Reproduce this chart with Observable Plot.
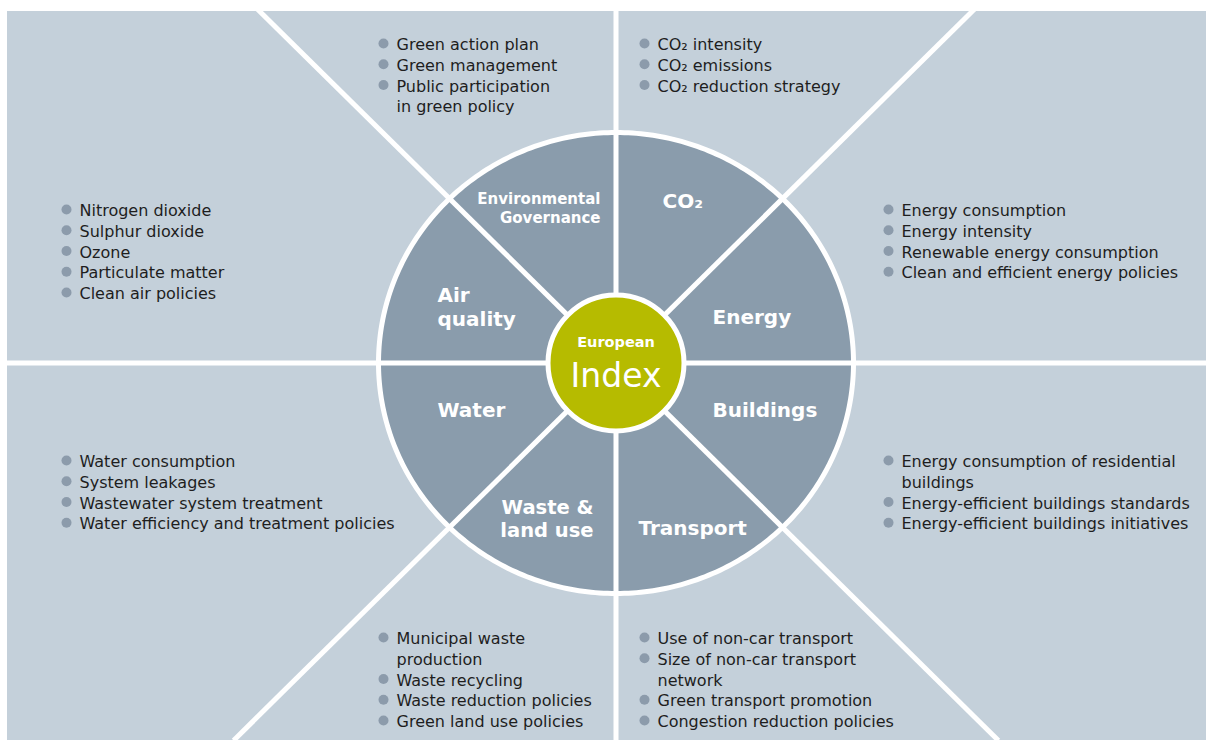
<!DOCTYPE html>
<html><head><meta charset="utf-8">
<script src="https://cdn.jsdelivr.net/npm/d3@7"></script>
<script src="https://cdn.jsdelivr.net/npm/@observablehq/plot@0.6"></script>
<style>
html,body{margin:0;padding:0;background:#fff;}
#chart svg{display:block}
</style></head><body><div id="chart"></div>
<script>
// ---------- content ----------
const centerTitle = ["European", "Index"];
const dimensions = ["Environmental\nGovernance", "CO₂", "Energy", "Buildings", "Transport", "Waste &\nland use", "Water", "Air\nquality"];
const envGovernance = ["Green action plan", "Green management", "Public participation\nin green policy"];
const co2 = ["CO₂ intensity", "CO₂ emissions", "CO₂ reduction strategy"];
const energy = ["Energy consumption", "Energy intensity", "Renewable energy consumption", "Clean and efficient energy policies"];
const buildings = ["Energy consumption of residential\nbuildings", "Energy-efficient buildings standards", "Energy-efficient buildings initiatives"];
const transport = ["Use of non-car transport", "Size of non-car transport\nnetwork", "Green transport promotion", "Congestion reduction policies"];
const waste = ["Municipal waste\nproduction", "Waste recycling", "Waste reduction policies", "Green land use policies"];
const water = ["Water consumption", "System leakages", "Wastewater system treatment", "Water efficiency and treatment policies"];
const air = ["Nitrogen dioxide", "Sulphur dioxide", "Ozone", "Particulate matter", "Clean air policies"];
const indicatorLists = [envGovernance, co2, energy, buildings, transport, waste, water, air];

// ---------- layout (positions / styles) ----------
const W = 1206, H = 740;
const C = {x: 615.5, y: 362.5};
const panel = {x1: 7, y1: 11, x2: 1206, y2: 740};
const outer = {rx: 237.5, ry: 230.5};
const innerR = 68;
const slope = 1.013;
const colors = {panel: "#c4d0da", wedge: "#8a9cac", core: "#b6bb00", bullet: "#8c9bab", text: "#1e1e1e"};
const labelPos = [
  {x: 600, ys: [197, 216], anchor: "end", size: 15, ls: 0},
  {x: 662, ys: [201], anchor: "start", size: 20, ls: 0},
  {x: 712, ys: [317], anchor: "start", size: 20, ls: 0},
  {x: 712, ys: [410], anchor: "start", size: 20, ls: 0},
  {x: 638, ys: [528], anchor: "start", size: 20, ls: 0},
  {x: 593, ys: [506.5, 529.5], anchor: "end", size: 19.5, ls: 0.2},
  {x: 437, ys: [410], anchor: "start", size: 20, ls: 0},
  {x: 437, ys: [294, 318], anchor: "start", size: 20, ls: 0}
];
const listAnchors = [[383, 43], [644, 43], [888, 209], [888, 460], [644, 637], [383, 637], [66, 460], [66, 209]];
const lineStep = 20.75, textOffset = 13, listSize = 16;

// ---------- derived tables ----------
const ellipse = d3.range(0, 360, 1).map(a => {
  const t = a * Math.PI / 180;
  return {x: C.x + outer.rx * Math.cos(t), y: C.y + outer.ry * Math.sin(t)};
});
const dividers = [
  {x1: C.x, y1: 0, x2: C.x, y2: H},
  {x1: 0, y1: C.y, x2: W, y2: C.y},
  {x1: C.x - slope * C.y, y1: 0, x2: C.x + slope * (H - C.y), y2: H},
  {x1: C.x + slope * C.y, y1: 0, x2: C.x - slope * (H - C.y), y2: H}
];
const bulletRows = [], itemRows = [];
indicatorLists.forEach((list, i) => {
  const [bx, by] = listAnchors[i];
  let k = 0;
  list.forEach(item => {
    const n = item.split("\n").length;
    const y0 = by + k * lineStep;
    bulletRows.push({x: bx, y: y0});
    itemRows.push({text: item, x: bx + textOffset, y: y0 + (n - 1) / 2 * lineStep});
    k += n;
  });
});

const font = "'DejaVu Sans', sans-serif";
const labelMarks = dimensions.map((d, i) => {
  const p = labelPos[i];
  return Plot.text([d], {
    x: () => p.x, y: () => d3.mean(p.ys), text: t => t,
    fontSize: p.size, lineHeight: p.ys.length > 1 ? (p.ys[1] - p.ys[0]) / p.size : 1,
    textAnchor: p.anchor, lineAnchor: "middle",
    fill: "white", fontWeight: 700, fontFamily: font, letterSpacing: p.ls
  });
});

const chart = Plot.plot({
  width: W, height: H, margin: 0,
  x: {domain: [0, W], range: [0, W], axis: null},
  y: {domain: [0, H], range: [0, H], axis: null},
  style: {background: "white"},
  marks: [
    Plot.rect([panel], {x1: "x1", x2: "x2", y1: "y1", y2: "y2", fill: colors.panel}),
    Plot.line(ellipse, {x: "x", y: "y", curve: "linear-closed", fill: colors.wedge, stroke: "white", strokeWidth: 5}),
    Plot.link(dividers, {x1: "x1", y1: "y1", x2: "x2", y2: "y2", stroke: "white", strokeWidth: 5}),
    Plot.dot([C], {x: "x", y: "y", r: innerR, fill: colors.core, stroke: "white", strokeWidth: 5}),
    Plot.rect([panel], {x1: 0, x2: W, y1: 0, y2: panel.y1, fill: "white"}),
    Plot.rect([panel], {x1: 0, x2: panel.x1, y1: 0, y2: H, fill: "white"}),
    ...labelMarks,
    Plot.text([centerTitle[0]], {x: () => C.x, y: () => 342, text: d => d, fontSize: 14.5, fontWeight: 700, fill: "white", fontFamily: font, lineAnchor: "middle"}),
    Plot.text([centerTitle[1]], {x: () => C.x, y: () => 376, text: d => d, fontSize: 33, fontWeight: 400, fill: "white", fontFamily: font, lineAnchor: "middle"}),
    Plot.dot(bulletRows, {x: "x", y: "y", r: 5, fill: colors.bullet}),
    Plot.text(itemRows, {x: "x", y: "y", text: "text", textAnchor: "start", lineAnchor: "middle", lineHeight: lineStep / listSize, fontSize: listSize, fill: colors.text, fontFamily: font})
  ]
});
document.getElementById("chart").appendChild(chart);
</script></body></html>
